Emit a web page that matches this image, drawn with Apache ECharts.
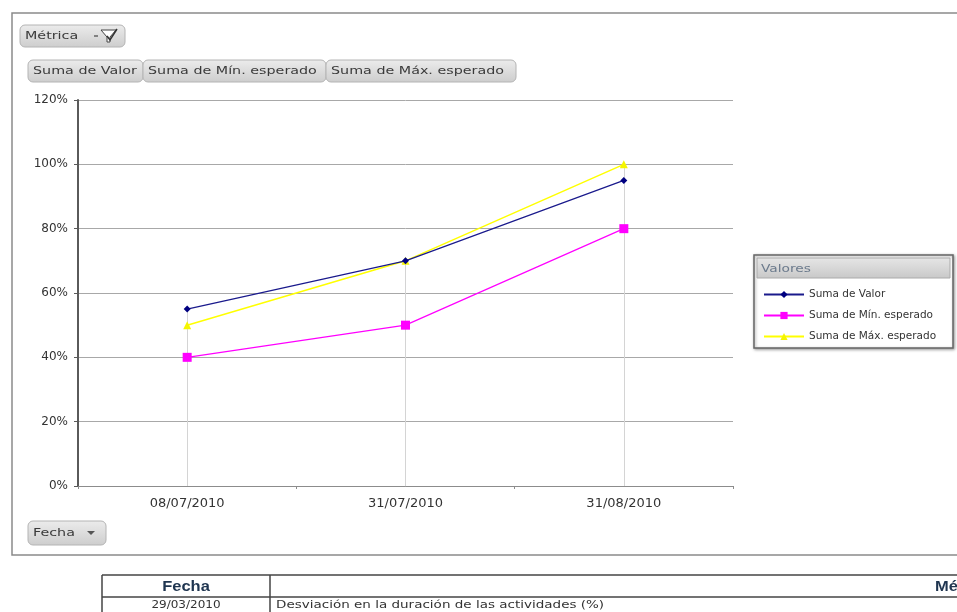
<!DOCTYPE html>
<html>
<head>
<meta charset="utf-8">
<script src="https://cdn.jsdelivr.net/npm/echarts@6/dist/echarts.min.js"></script>
<style>
  html, body { margin: 0; padding: 0; background: #fff; }
  #chart { width: 957px; height: 612px; }
</style>
</head>
<body>
<div id="chart"></div>
<script>
// Pivot chart data: dates on the category axis, percentages as fractions
var fechas = ['08/07/2010', '31/07/2010', '31/08/2010'];
var sumaValor = [0.55, 0.70, 0.95];
var sumaMinEsperado = [0.40, 0.50, 0.80];
var sumaMaxEsperado = [0.50, 0.70, 1.00];

var seriesNames = ['Suma de Valor', 'Suma de Mín. esperado', 'Suma de Máx. esperado'];
var FONT = 'DejaVu Sans';

// drop lines: from the highest point of each date down to the axis
var dropLines = fechas.map(function (f, i) {
  var top = Math.max(sumaValor[i], sumaMinEsperado[i], sumaMaxEsperado[i]);
  return [{ coord: [i, 0] }, { coord: [i, top] }];
});

// widened UI text, as the pivot-table controls use a broad face
function txt(x, y, s, opt) {
  opt = opt || {};
  return {
    type: 'text', x: x, y: y, scaleX: opt.sx || 1.3,
    style: {
      text: s, fill: opt.fill || '#3a3a3a',
      font: (opt.bold ? 'bold ' : '') + (opt.size || 11) + 'px "' + (opt.family || FONT) + '"',
      textAlign: opt.align || 'left', textVerticalAlign: 'middle'
    }
  };
}

function button(x, y, w, h, label, extra) {
  var children = [{
    type: 'rect',
    shape: { x: x, y: y, width: w, height: h, r: 5 },
    style: {
      fill: new echarts.graphic.LinearGradient(0, 0, 0, 1, [
        { offset: 0, color: '#ececec' }, { offset: 1, color: '#cdcdcd' }
      ]),
      stroke: '#b4b4b4', lineWidth: 1
    }
  }, txt(x + 5, y + h / 2, label)];
  return { type: 'group', children: children.concat(extra || []) };
}

var chart = echarts.init(document.getElementById('chart'), null, { renderer: 'canvas' });

var graphics = [
  // outer chart frame
  { type: 'rect', shape: { x: 12, y: 13, width: 960, height: 542 },
    style: { fill: null, stroke: '#8a8a8a', lineWidth: 1.5 }, z: -1 },
  // field buttons
  button(20, 25, 105, 22, 'Métrica', [
    { type: 'polyline', shape: { points: [[94, 36], [98, 36]] }, style: { stroke: '#444', lineWidth: 1.2 } },
    { type: 'polygon', shape: { points: [[101, 30], [116, 30], [110, 37], [110, 42], [107, 42], [107, 37]] },
      style: { fill: '#fff', stroke: '#444', lineWidth: 1 } },
    { type: 'polyline', shape: { points: [[107, 36], [110, 40], [117, 29]] }, style: { stroke: '#333', lineWidth: 1.5 } }
  ]),
  button(28, 60, 115, 22, 'Suma de Valor'),
  button(143, 60, 183, 22, 'Suma de Mín. esperado'),
  button(326, 60, 190, 22, 'Suma de Máx. esperado'),
  button(28, 521, 78, 24, 'Fecha', [
    { type: 'polygon', shape: { points: [[87, 531], [95, 531], [91, 535]] }, style: { fill: '#555' } }
  ]),
  // legend box
  { type: 'rect', shape: { x: 754, y: 255, width: 199, height: 93 },
    style: { fill: '#fff', stroke: '#666', lineWidth: 1.5,
             shadowBlur: 3, shadowColor: 'rgba(0,0,0,0.35)', shadowOffsetX: 1, shadowOffsetY: 1 } },
  { type: 'rect', shape: { x: 757, y: 258, width: 193, height: 20 },
    style: { fill: new echarts.graphic.LinearGradient(0, 0, 0, 1, [
      { offset: 0, color: '#e6e6e6' }, { offset: 1, color: '#c8c8c8' }
    ]), stroke: '#aaa', lineWidth: 1 } },
  txt(761, 269, 'Valores', { fill: '#6b7a8c', size: 11, sx: 1.25 }),
  // data table below the chart
  { type: 'polyline', shape: { points: [[102, 575], [957, 575]] }, style: { stroke: '#444', lineWidth: 1.5 } },
  { type: 'polyline', shape: { points: [[102, 597], [957, 597]] }, style: { stroke: '#444', lineWidth: 1.5 } },
  { type: 'polyline', shape: { points: [[102, 575], [102, 612]] }, style: { stroke: '#444', lineWidth: 1.5 } },
  { type: 'polyline', shape: { points: [[270, 575], [270, 612]] }, style: { stroke: '#444', lineWidth: 1.5 } },
  txt(186, 587, 'Fecha', { fill: '#1f3550', bold: true, size: 15, family: 'Liberation Sans', align: 'center', sx: 1.1 }),
  txt(935, 587, 'Métrica', { fill: '#1f3550', bold: true, size: 15, family: 'Liberation Sans', sx: 1.1 }),
  txt(186, 605, '29/03/2010', { fill: '#333', size: 10, align: 'center', sx: 1.2 }),
  txt(276, 605, 'Desviación en la duración de las actividades (%)', { fill: '#333', size: 10, sx: 1.35 })
];

chart.setOption({
  animation: false,
  backgroundColor: '#fff',
  textStyle: { fontFamily: FONT },
  grid: { left: 78, top: 100, width: 655, height: 386, containLabel: false },
  legend: {
    orient: 'vertical', left: 758, top: 284, itemGap: 10, itemWidth: 40, itemHeight: 9,
    data: seriesNames,
    textStyle: { fontSize: 10.5, color: '#333', fontFamily: FONT }
  },
  xAxis: {
    type: 'category', data: fechas, boundaryGap: true,
    axisLine: { lineStyle: { color: '#8c8c8c', width: 1 } },
    axisTick: { show: true, length: 3, lineStyle: { color: '#8c8c8c' } },
    axisLabel: { color: '#333', fontSize: 13, margin: 11 },
    splitLine: { show: false }
  },
  yAxis: {
    type: 'value', min: 0, max: 1.2, interval: 0.2,
    axisLine: { show: true, lineStyle: { color: '#5a5a5a', width: 2 } },
    axisTick: { show: true, length: 4, lineStyle: { color: '#5a5a5a' } },
    axisLabel: { color: '#333', fontSize: 12, margin: 10,
      formatter: function (v) { return Math.round(v * 100) + '%'; } },
    splitLine: { show: true, lineStyle: { color: '#a8a8a8', width: 1 } }
  },
  series: [
    {
      name: seriesNames[0], type: 'line', data: sumaValor,
      color: '#000080', symbol: 'diamond', symbolSize: 7,
      lineStyle: { width: 1.2, color: '#1a1a8c' }, z: 4,
      markLine: {
        silent: true, symbol: 'none', label: { show: false },
        lineStyle: { color: '#d4d4d4', width: 1, type: 'solid' },
        data: dropLines, z: 1
      }
    },
    {
      name: seriesNames[1], type: 'line', data: sumaMinEsperado,
      color: '#ff00ff', symbol: 'rect', symbolSize: 9,
      lineStyle: { width: 1.2, color: '#ff00ff' }, z: 3
    },
    {
      name: seriesNames[2], type: 'line', data: sumaMaxEsperado,
      color: '#ffff00', symbol: 'triangle', symbolSize: 8,
      itemStyle: { color: '#f5f500' },
      lineStyle: { width: 1.5, color: '#ffff00' }, z: 2
    }
  ],
  graphic: graphics
});
</script>
</body>
</html>
